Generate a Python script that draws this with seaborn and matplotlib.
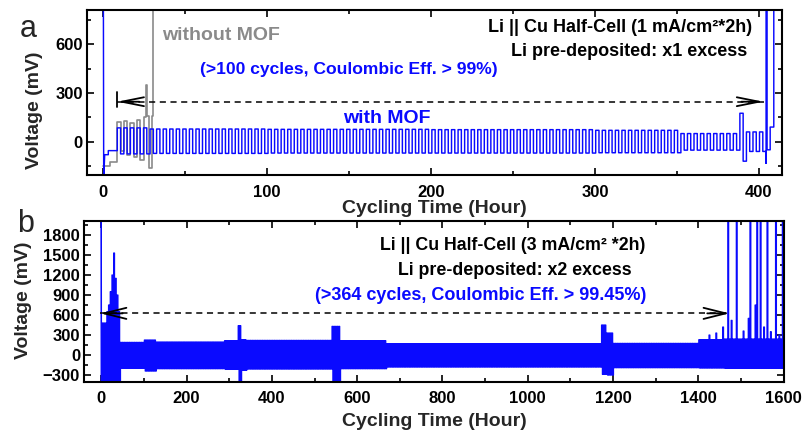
import numpy as np
import pandas as pd
import matplotlib
matplotlib.use("Agg")
import matplotlib.pyplot as plt
from matplotlib.ticker import MultipleLocator
import seaborn as sns

# Galvanostatic protocol: each half-cycle (plating or stripping) lasts 2 h
HALF = 2.0

# ---------------- (a) 1 mA/cm2, x1 excess Li ----------------
# formation steps before cycling starts (hours, mV)
a_start_t = [0.0, 0.2, 0.8, 3.0, 3.0, 8.5]
a_start_v = [900, -230, -80, -80, -55, -55]

# cycling blocks: block start (h), stripping plateau (mV), plating plateau (mV)
a_seg_start = [8.5, 28.5, 100.5, 200.5, 300.5, 352.5, 388.5, 392.5]
a_seg_end = 404.5
a_seg_upper = [85, 78, 76, 74, 70, 50, 175, 60]
a_seg_lower = [-75, -72, -70, -70, -68, -52, -120, -60]

# failure at the end of cycling
a_end_t = [404.5, 404.5, 405.1, 405.1, 407.0, 407.0, 409.2, 409.2]
a_end_v = [-133, 900, 900, -50, -50, 90, 90, 900]

# bare Cu (without MOF)
gray_t = [0, 4, 4, 8.5, 8.5, 10.5, 10.5, 12.5, 12.5, 14.5, 14.5, 16.5, 16.5,
          18.5, 18.5, 20.5, 20.5, 22.5, 22.5, 24.5, 24.5, 26.2, 26.2, 26.6,
          26.6, 27.6, 27.6, 29.4, 29.4, 30.4, 30.4]
gray_v = [-150, -150, -125, -125, 120, 120, -60, -60, 125, 125, -80, -80, 115,
          115, -95, -95, 135, 135, -115, -115, 150, 150, 350, 350,
          160, 160, -160, -160, 160, 160, 900]

# ---------------- (b) 3 mA/cm2, x2 excess Li ----------------
b_start_t = [0.0, 0.0, 0.5, 1.0]
b_start_v = [-450, 2100, -450, -450]

b_seg_start = [1, 13, 17, 21, 25, 29, 33, 37, 41, 45, 101, 129, 289, 321, 329,
               341, 541, 561, 669, 1173, 1185, 1201, 1401, 1461]
b_seg_end = 1601
b_seg_upper = [480, 650, 750, 950, 1200, 1530, 1150, 900, 650, 190, 225, 195,
               215, 440, 230, 220, 430, 215, 170, 450, 330, 175, 230, 240]
b_seg_lower = [-450, -450, -450, -450, -450, -450, -450, -450, -450, -200,
               -240, -205, -215, -450, -230, -210, -450, -205, -180, -290,
               -300, -190, -195, -200]

# individual over-potential peaks near the end of life
b_peak_t = [1425, 1441, 1457, 1469, 1477, 1489, 1505, 1517, 1521, 1533, 1537,
            1545, 1553, 1561, 1569, 1581, 1589, 1597]
b_peak_v = [300, 330, 420, 2100, 520, 2100, 360, 550, 2100, 750, 2100,
            2100, 420, 2100, 350, 2100, 300, 2100]


def cycle_trace(starts, end, upper, lower, peak_t=(), peak_v=()):
    """Square-wave voltage trace: stripping plateau then plating plateau."""
    t_out, v_out = [], []
    bounds = list(starts) + [end]
    for i in range(len(starts)):
        n = int(round((bounds[i + 1] - bounds[i]) / (2 * HALF)))
        for k in range(n):
            t0 = bounds[i] + k * 2 * HALF
            up = upper[i]
            for pt, pv in zip(peak_t, peak_v):
                if abs(pt - t0) < HALF:
                    up = pv
            t_out += [t0, t0 + HALF, t0 + HALF, t0 + 2 * HALF]
            v_out += [up, up, lower[i], lower[i]]
    return t_out, v_out


at, av = cycle_trace(a_seg_start, a_seg_end, a_seg_upper, a_seg_lower)
df_a = pd.DataFrame({"t": a_start_t + at + a_end_t,
                     "v": a_start_v + av + a_end_v})
df_gray = pd.DataFrame({"t": gray_t, "v": gray_v})
bt, bv = cycle_trace(b_seg_start, b_seg_end, b_seg_upper, b_seg_lower,
                     b_peak_t, b_peak_v)
df_b = pd.DataFrame({"t": b_start_t + bt, "v": b_start_v + bv})

sns.set_style("ticks")
plt.rcParams["font.family"] = ["Liberation Sans", "DejaVu Sans"]
plt.rcParams["font.weight"] = "bold"
plt.rcParams["axes.labelweight"] = "bold"

BLUE = "#0a0aff"
GRAY = "#8a8a8a"

fig = plt.figure(figsize=(8.10, 4.36), dpi=100)
ax_a = fig.add_axes([0.1074, 0.5986, 0.8576, 0.3784])
ax_b = fig.add_axes([0.1040, 0.1245, 0.8640, 0.3686])
ax_b.patch.set_alpha(0.0)

# ---- panel a ----
sns.lineplot(data=df_gray, x="t", y="v", sort=False, estimator=None,
             color=GRAY, lw=1.2, ax=ax_a)
sns.lineplot(data=df_a, x="t", y="v", sort=False, estimator=None,
             color=BLUE, lw=1.05, ax=ax_a)
ax_a.set_xlim(-10, 414)
ax_a.set_ylim(-205, 810)
ax_a.xaxis.set_major_locator(MultipleLocator(100))
ax_a.xaxis.set_minor_locator(MultipleLocator(50))
ax_a.yaxis.set_major_locator(MultipleLocator(300))
ax_a.yaxis.set_minor_locator(MultipleLocator(150))

# ---- panel b ----
sns.lineplot(data=df_b, x="t", y="v", sort=False, estimator=None,
             color=BLUE, lw=0.9, ax=ax_b)
ax_b.set_xlim(-40, 1601)
ax_b.set_ylim(-400, 2010)
ax_b.xaxis.set_major_locator(MultipleLocator(200))
ax_b.xaxis.set_minor_locator(MultipleLocator(100))
ax_b.yaxis.set_major_locator(MultipleLocator(300))
ax_b.yaxis.set_minor_locator(MultipleLocator(150))

for ax in (ax_a, ax_b):
    for sp in ax.spines.values():
        sp.set_visible(True)
        sp.set_linewidth(1.5)
        sp.set_color("black")
    ax.tick_params(which="both", direction="in", top=True, right=True,
                   width=1.2, colors="black", labelsize=12)
    ax.tick_params(which="major", length=5)
    ax.tick_params(which="minor", length=3)
    ax.tick_params(axis="x", pad=7)
    ax.tick_params(axis="y", pad=3)
    for lab in ax.get_xticklabels() + ax.get_yticklabels():
        lab.set_fontweight("bold")
    ax.set_xlabel("Cycling Time (Hour)", fontsize=14, fontweight="bold")
    ax.set_ylabel("Voltage (mV)", fontsize=14, fontweight="bold")

ax_a.xaxis.set_label_coords(0.5, -0.15)
ax_a.yaxis.set_label_coords(-0.063, 0.39)
ax_b.xaxis.set_label_coords(0.5, -0.195)
ax_b.yaxis.set_label_coords(-0.075, 0.508)

# ---- cycle-life arrows ----
DASH = (0, (4, 3))


def span_arrow(ax, t0, t1, y, head_l, head_w, len_pts):
    ax.plot([t0, t1], [y, y], color="black", lw=1.1, ls=DASH, zorder=6)
    style = f"->,head_length={head_l},head_width={head_w}"
    ax.annotate("", xy=(t0, y), xytext=(len_pts, 0), textcoords="offset points",
                arrowprops=dict(arrowstyle=style, lw=1.3, color="black",
                                shrinkA=0, shrinkB=0), zorder=7)
    ax.annotate("", xy=(t1, y), xytext=(-len_pts, 0), textcoords="offset points",
                arrowprops=dict(arrowstyle=style, lw=1.3, color="black",
                                shrinkA=0, shrinkB=0), zorder=7)


life_a = (8.4, 403.0, 246)
life_b = (-2.0, 1473.0, 625)
span_arrow(ax_a, *life_a, head_l=1.6, head_w=0.32, len_pts=16)
ax_a.plot([life_a[0], life_a[0]], [216, 308], color="black", lw=1.3, zorder=7)
span_arrow(ax_b, *life_b, head_l=1.6, head_w=0.4, len_pts=16)

# ---- annotations ----
ax_a.text(35.7, 651, "without MOF", color=GRAY, fontsize=14,
          fontweight="bold", ha="left", va="center")
ax_a.text(58.9, 442, "(>100 cycles, Coulombic Eff. > 99%)", color=BLUE,
          fontsize=12.6, fontweight="bold", ha="left", va="center")
ax_a.text(146.2, 140, "with MOF", color=BLUE, fontsize=14,
          fontweight="bold", ha="left", va="center")
ax_a.text(396, 700, "Li || Cu Half-Cell (1 mA/cm\u00b2*2h)", color="black",
          fontsize=13, fontweight="bold", ha="right", va="center")
ax_a.text(393, 553, "Li pre-deposited: x1 excess", color="black",
          fontsize=13, fontweight="bold", ha="right", va="center")

ax_b.text(653, 1650, "Li || Cu Half-Cell (3 mA/cm\u00b2 *2h)", color="black",
          fontsize=12.8, fontweight="bold", ha="left", va="center")
ax_b.text(695, 1275, "Li pre-deposited: x2 excess", color="black",
          fontsize=12.8, fontweight="bold", ha="left", va="center")
ax_b.text(500, 900, "(>364 cycles, Coulombic Eff. > 99.45%)", color=BLUE,
          fontsize=13, fontweight="bold", ha="left", va="center")

fig.text(20 / 810, 1 - 37 / 436, "a", fontsize=22, fontweight="normal",
         ha="left", va="baseline")
fig.text(17 / 810, 1 - 232 / 436, "b", fontsize=22, fontweight="normal",
         ha="left", va="baseline")

fig.savefig("out.png", dpi=100, facecolor="white")
